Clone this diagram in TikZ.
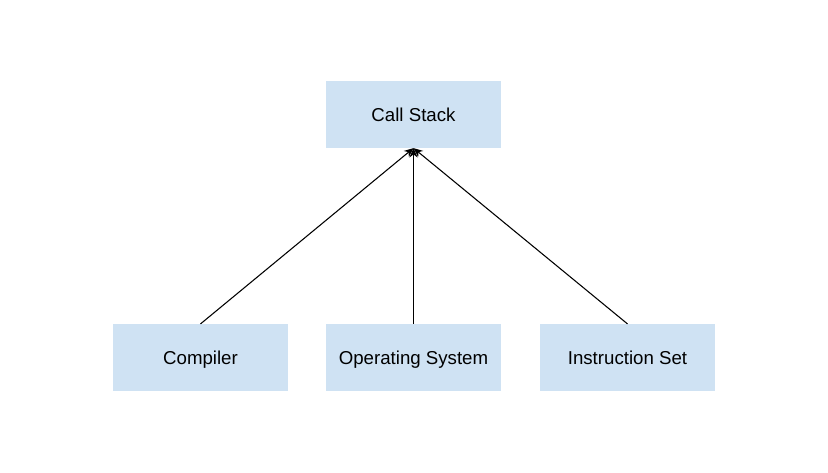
\documentclass[tikz,border=0pt]{standalone}
\usepackage{fontspec}
\setmainfont{Liberation Sans}
\usetikzlibrary{arrows.meta}
\definecolor{boxblue}{HTML}{CFE2F3}
\newcommand{\boxtext}[1]{\raisebox{-5.4pt}[0pt][0pt]{#1}}
\begin{document}
\begin{tikzpicture}[x=0.75pt,y=-0.75pt,
  box/.style={fill=boxblue,draw=none,minimum width=131.25pt,minimum height=50pt,inner sep=0pt,font=\fontsize{14pt}{16pt}\selectfont},
  conn/.style={-{Stealth[length=7pt,width=6pt]},line width=0.8pt,black}]
\useasboundingbox (0,0) rectangle (828,472);
\node[box] (cs) at (413.5,114.5) {\boxtext{Call Stack}};
\node[box] (comp) at (200.5,357.5) {\boxtext{Compiler}};
\node[box] (os) at (413.5,357.5) {\boxtext{Operating System}};
\node[box] (is) at (627.5,357.5) {\boxtext{Instruction Set}};
\draw[conn] (comp.north) -- (cs.south);
\draw[conn] (os.north) -- (cs.south);
\draw[conn] (is.north) -- (cs.south);
\end{tikzpicture}
\end{document}
